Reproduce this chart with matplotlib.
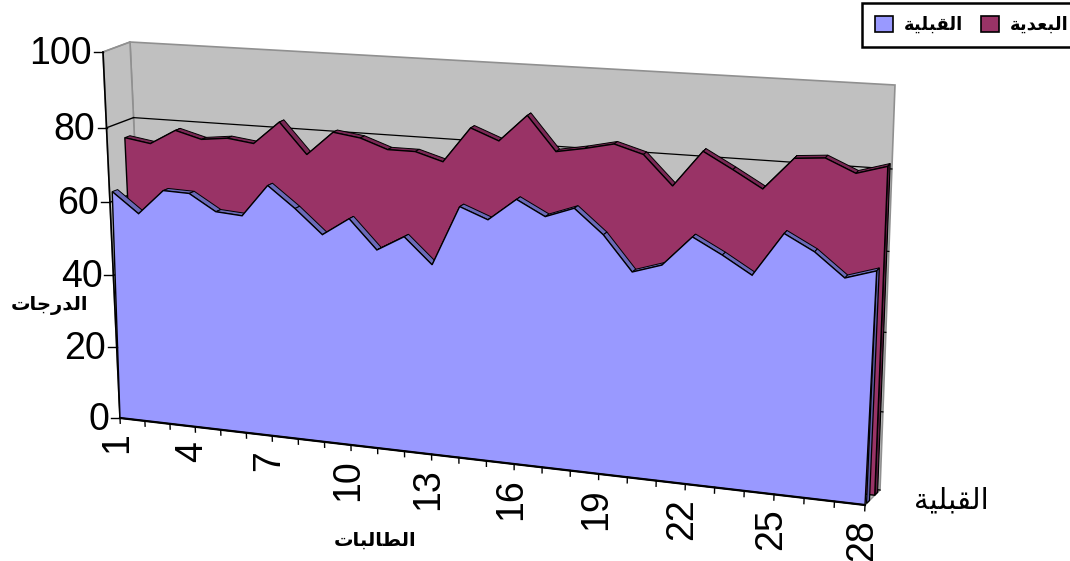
import numpy as np
import matplotlib
matplotlib.use("Agg")
import matplotlib.pyplot as plt
from matplotlib.transforms import Transform
from matplotlib.patches import Patch

students = list(range(1, 29))
before = [62.6, 57.2, 64.0, 63.8, 59.5, 59.0, 67.6, 62.1, 55.8, 60.6, 53.0, 57.1, 50.4, 66.1,
          63.3, 69.1, 65.3, 68.0, 61.9, 53.1, 55.5, 63.2, 59.3, 54.9, 65.9, 62.0, 56.2, 58.6]
after = [75.6, 74.5, 78.5, 76.6, 77.4, 76.5, 82.6, 74.6, 80.9, 79.9, 77.4, 77.4, 75.3, 84.4,
         81.6, 88.5, 79.9, 81.2, 82.8, 80.7, 73.4, 82.5, 78.5, 74.3, 82.3, 82.9, 79.7, 81.9]
x_tick_labels = [1, 4, 7, 10, 13, 16, 19, 22, 25, 28]
y_ticks = [0, 20, 40, 60, 80, 100]
name_before = "القبلية"
name_after = "البعدية"
y_title = "الدرجات"
x_title = "الطالبات"

FORMS = {
    "ا": (0xFE8D, 0xFE8E, None, None), "د": (0xFEA9, 0xFEAA, None, None),
    "ر": (0xFEAD, 0xFEAE, None, None), "ة": (0xFE93, 0xFE94, None, None),
    "ل": (0xFEDD, 0xFEDE, 0xFEDF, 0xFEE0), "ق": (0xFED5, 0xFED6, 0xFED7, 0xFED8),
    "ب": (0xFE8F, 0xFE90, 0xFE91, 0xFE92), "ي": (0xFEF1, 0xFEF2, 0xFEF3, 0xFEF4),
    "ع": (0xFEC9, 0xFECA, 0xFECB, 0xFECC), "ج": (0xFE9D, 0xFE9E, 0xFE9F, 0xFEA0),
    "ت": (0xFE95, 0xFE96, 0xFE97, 0xFE98), "ط": (0xFEC1, 0xFEC2, 0xFEC3, 0xFEC4),
}


def shape(word):
    out = []
    for i, ch in enumerate(word):
        f = FORMS[ch]
        prev = i > 0 and FORMS[word[i - 1]][2] is not None
        nxt = i < len(word) - 1 and f[2] is not None
        idx = 3 if prev and nxt else 1 if prev else 2 if nxt else 0
        out.append(chr(f[idx]))
    return "".join(reversed(out))


def homography(corners):
    src = [(0, 0), (1, 0), (0, 1), (1, 1)]
    A, b = [], []
    for (u, v), (px, py) in zip(src, corners):
        A.append([u, v, 1, 0, 0, 0, -u * px, -v * px]); b.append(px)
        A.append([0, 0, 0, u, v, 1, -u * py, -v * py]); b.append(py)
    h = np.linalg.solve(np.array(A, float), np.array(b, float))
    return np.append(h, 1).reshape(3, 3)


FRONT = np.array([(120, 418), (865, 505), (103, 52), (883, 100)], float)
BACK = np.array([(147, 408), (880, 490), (130, 42), (895, 85)], float)


class Chart3D(Transform):
    input_dims = output_dims = 2
    is_separable = False
    has_inverse = False

    def __init__(self, depth):
        super().__init__()
        self.H = homography(FRONT + (BACK - FRONT) * depth)

    def transform_non_affine(self, values):
        values = np.asarray(values, float)
        pts = np.c_[(values[:, 0] - 1) / 27, values[:, 1] / 100, np.ones(len(values))]
        out = pts @ self.H.T
        return out[:, :2] / out[:, 2:]


fig = plt.figure(figsize=(10.7, 5.61), dpi=100)
ax = fig.add_axes([0, 0, 1, 1])
ax.set_xlim(0, 1070)
ax.set_ylim(561, 0)
ax.axis("off")
ax.autoscale(False)

T0 = Chart3D(0) + ax.transData
T1 = Chart3D(1) + ax.transData
WALL = "#C0C0C0"
ax.fill([1, 28, 28, 1], [0, 0, 100, 100], transform=T1, fc=WALL, ec="#909090", lw=1.2, zorder=1)


def across(xa, va, da, xb, vb, db):
    p = Chart3D(da).transform(np.array([[xa, va]], float))[0]
    q = Chart3D(db).transform(np.array([[xb, vb]], float))[0]
    return p, q


pa, pb = across(1, 0, 0, 1, 0, 1)
pc, pd = across(1, 100, 0, 1, 100, 1)
ax.fill([pa[0], pb[0], pd[0], pc[0]], [pa[1], pb[1], pd[1], pc[1]], fc=WALL, ec="#909090", lw=1.2, zorder=1)
pc, pd = across(28, 0, 0, 28, 0, 1)
ax.fill([pa[0], pb[0], pd[0], pc[0]], [pa[1], pb[1], pd[1], pc[1]], fc=WALL, ec="#909090", lw=1, zorder=1)

for v in y_ticks:
    p, q = across(1, v, 0, 1, v, 1)
    ax.plot([p[0], q[0]], [p[1], q[1]], color="k" if v < 100 else "#909090", lw=1, zorder=1.5)
    if v < 100:
        ax.plot([1, 28], [v, v], transform=T1, color="k", lw=0.9, zorder=1.5)


def series(values, d0, d1, base_depth, face, top, cap, z):
    F, B, G = Chart3D(d0), Chart3D(d1), Chart3D(base_depth)
    xs = np.array(students, float)
    vals = np.array(values, float)
    f = F.transform(np.c_[xs, vals])
    b = B.transform(np.c_[xs, vals])
    for i in range(len(xs) - 1):
        ax.fill([f[i, 0], f[i + 1, 0], b[i + 1, 0], b[i, 0]],
                [f[i, 1], f[i + 1, 1], b[i + 1, 1], b[i, 1]],
                fc=top, ec="k", lw=0.7, zorder=z)
    f0 = F.transform(np.array([[28.0, 0.0]]))[0]
    b0 = B.transform(np.array([[28.0, 0.0]]))[0]
    ax.fill([f[-1, 0], b[-1, 0], b0[0], f0[0]], [f[-1, 1], b[-1, 1], b0[1], f0[1]],
            fc=cap, ec="k", lw=0.9, zorder=z)
    g = G.transform(np.array([[28.0, 0.0], [1.0, 0.0]]))
    ax.fill(np.r_[f[:, 0], g[:, 0]], np.r_[f[:, 1], g[:, 1]],
            fc=face, ec="k", lw=1, zorder=z + 0.1)


series(after, 0.65, 0.84, 0.65, "#993366", "#7A2855", "#5E1E42", 2)
series(before, 0.10, 0.30, 0.0, "#9999FF", "#6A6AB8", "#5C5CA6", 3)

ax.plot([1, 1], [0, 100], transform=T0, color="k", lw=1.2, zorder=2.5)
ax.plot([1, 28], [0, 0], transform=T0, color="k", lw=1.6, zorder=4)
for x in students:
    ax.plot([x, x], [0, -1.5], transform=T0, color="k", lw=1, zorder=4)

for v in y_ticks:
    p = Chart3D(0).transform(np.array([[1.0, float(v)]]))[0]
    ax.plot([p[0] - 9, p[0]], [p[1], p[1]], color="k", lw=1, zorder=4)
    ax.annotate(str(v), xy=(1, v), xycoords=T0, xytext=(-11, 2), textcoords="offset pixels",
                ha="right", va="center_baseline", fontsize=27, family="Liberation Sans", zorder=5)

for x in x_tick_labels:
    ax.annotate(str(x), xy=(x, 0), xycoords=T0, xytext=(-3, -14), textcoords="offset pixels",
                ha="center", va="top", rotation=90, fontsize=27, family="Liberation Sans",
                annotation_clip=False, zorder=5)

ax.text(50, 305, shape(y_title), ha="center", va="center", fontsize=14, fontweight="bold", family="DejaVu Sans")
ax.text(375, 540, shape(x_title), ha="center", va="center", fontsize=14, fontweight="bold", family="DejaVu Sans")
ax.text(951, 500, shape(name_before), ha="center", va="center", fontsize=21, family="DejaVu Sans")

handles = [Patch(fc="#9999FF", ec="k", lw=1.2, label=shape(name_before)),
           Patch(fc="#993366", ec="k", lw=1.2, label=shape(name_after))]
leg = ax.legend(handles=handles, ncol=2, loc="upper left", bbox_to_anchor=(862 / 1070, 1 - 3 / 561),
                borderaxespad=0, fancybox=False, framealpha=1, edgecolor="k",
                prop={"family": "DejaVu Sans", "weight": "bold", "size": 13},
                handlelength=1.0, handleheight=1.0, handletextpad=0.6, columnspacing=1.0,
                borderpad=0.7)
leg.get_frame().set_linewidth(1.8)
leg.set_zorder(6)

fig.savefig("out.png", dpi=100)
